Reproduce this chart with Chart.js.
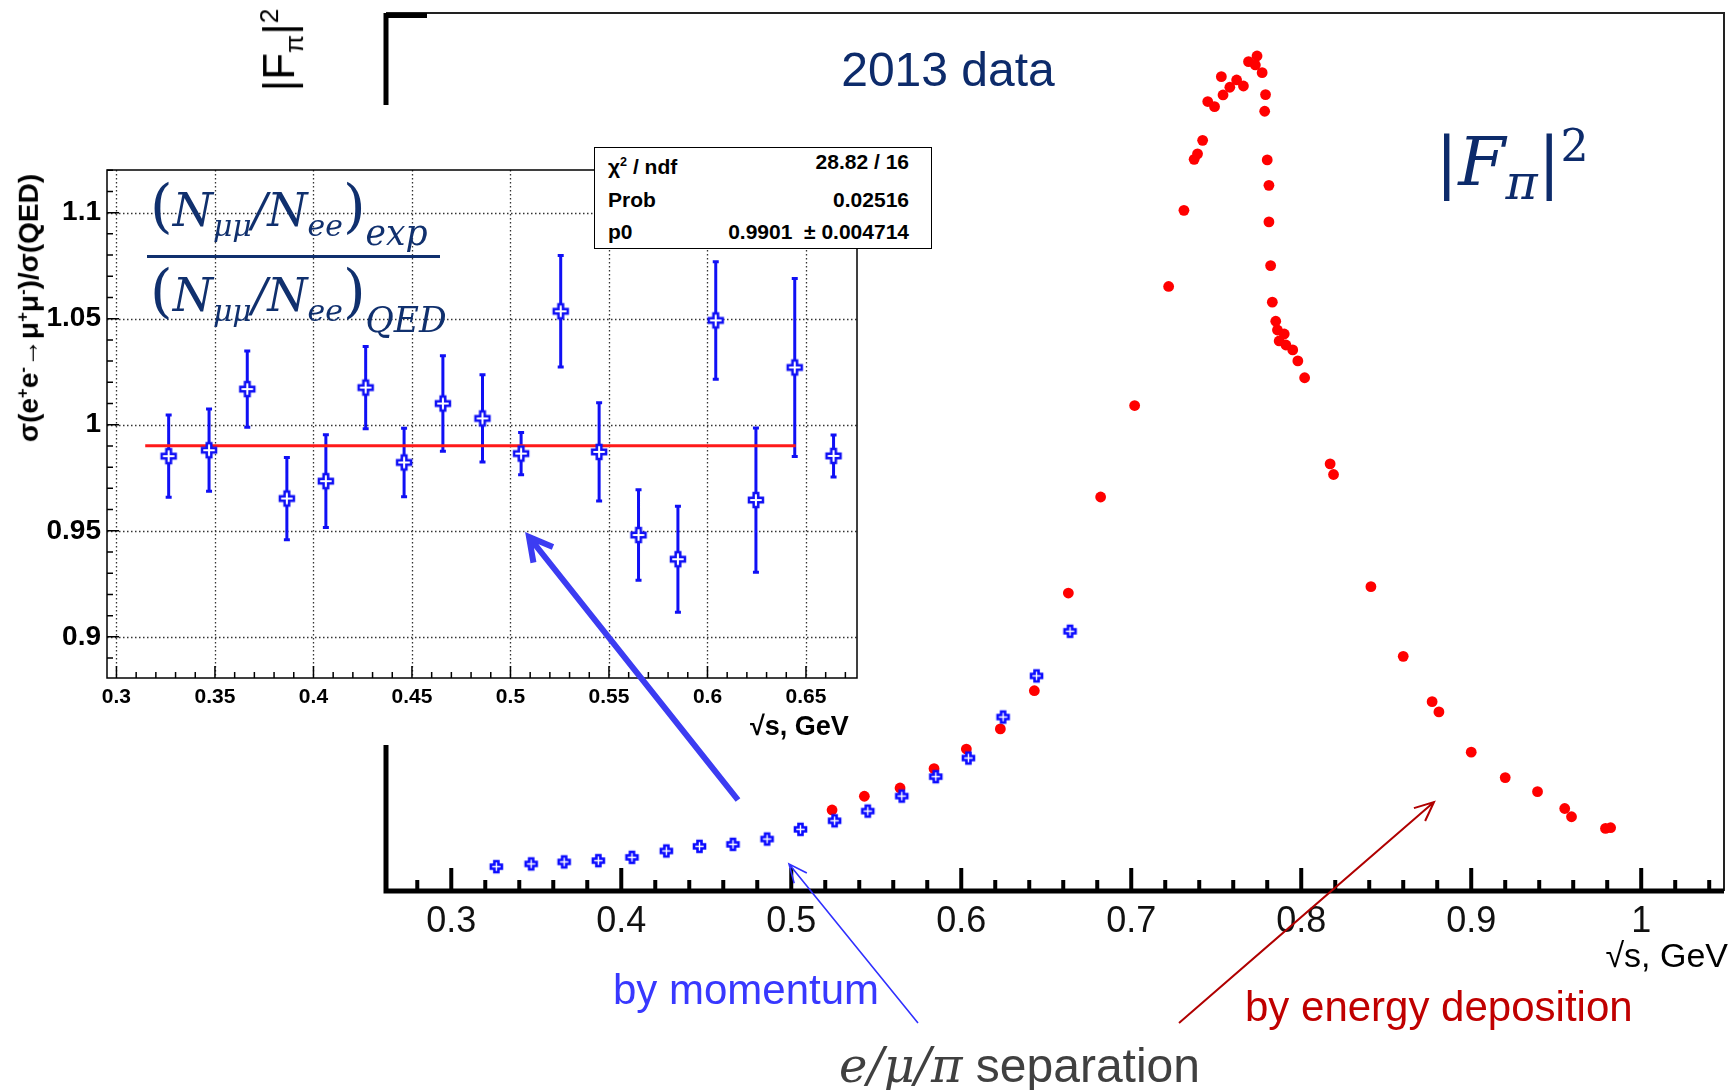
<!DOCTYPE html>
<html>
<head>
<meta charset="utf-8">
<script src="https://cdn.jsdelivr.net/npm/chart.js@4.4.1/dist/chart.umd.min.js"></script>
<style>
  html, body { margin: 0; padding: 0; background: #fff; }
  #page { position: relative; width: 1731px; height: 1090px; overflow: hidden; background: #fff; font-family: 'Liberation Sans', Arial, sans-serif; }
  #mainChart { position: absolute; left: 0; top: 0; }
  #insetBox { position: absolute; left: 0; top: 105px; width: 880px; height: 640px; background: #fff; }
  .lbl { position: absolute; white-space: nowrap; line-height: 1; }
  .math { font-family: 'DejaVu Serif', 'Liberation Serif', serif; font-style: italic; }
  #stats { position: absolute; left: 594px; top: 147px; width: 336px; height: 100px; border: 1.5px solid #000; background: #fff;
           font: bold 21px 'Liberation Sans', Arial, sans-serif; color: #000; }
  #stats .row { position: absolute; left: 13px; right: 22px; height: 24px; line-height: 24px; white-space: pre; }
  #stats .row span:last-child { position: absolute; right: 0; }
  #arrows { position: absolute; left: 0; top: 0; pointer-events: none; }
</style>
</head>
<body>
<div id="page">
  <canvas id="mainChart" width="1731" height="1090"></canvas>

  <!-- inset: ratio to QED -->
  <div id="insetBox"><canvas id="insetChart" width="880" height="640"></canvas></div>

  <div class="lbl" style="left:29px; top:308px; transform: translate(-50%,-50%) rotate(-90deg); font: bold 28px 'Liberation Sans', Arial, sans-serif;">σ(e<sup style="font-size:60%">+</sup>e<sup style="font-size:60%">-</sup>→μ<sup style="font-size:60%">+</sup>μ<sup style="font-size:60%">-</sup>)/σ(QED)</div>
  <div class="lbl" style="left:750px; top:711px; font: bold 27px 'Liberation Sans', Arial, sans-serif;">√s, GeV</div>

  <div id="stats">
    <div class="row" style="top:2px"><span>χ<sup style="font-size:60%">2</sup> / ndf</span><span id="stChi"></span></div>
    <div class="row" style="top:40px"><span>Prob</span><span id="stProb"></span></div>
    <div class="row" style="top:72px"><span>p0</span><span id="stP0"></span></div>
  </div>

  <!-- ratio formula -->
  <div class="lbl math" style="left:150px; top:177px; font-size:46px; color:#10306e;"><span style="font-style:normal; font-size:58px;">(</span>N<sub style="font-size:65%">μμ</sub>/N<sub style="font-size:65%">ee</sub><span style="font-style:normal; font-size:58px;">)</span><sub style="font-size:75%; position:relative; top:9px;">exp</sub></div>
  <div style="position:absolute; left:147px; top:255px; width:293px; height:3px; background:#10306e;"></div>
  <div class="lbl math" style="left:150px; top:262px; font-size:46px; color:#10306e;"><span style="font-style:normal; font-size:58px;">(</span>N<sub style="font-size:65%">μμ</sub>/N<sub style="font-size:65%">ee</sub><span style="font-style:normal; font-size:58px;">)</span><sub style="font-size:75%; position:relative; top:11px;">QED</sub></div>

  <!-- main plot labels -->
  <div class="lbl" style="left:282px; top:50px; transform: translate(-50%,-50%) rotate(-90deg); font-size:44px; color:#000;">|F<sub style="font-size:60%">π</sub>|<sup style="font-size:60%">2</sup></div>
  <div class="lbl" style="left:948px; top:70px; transform: translate(-50%,-50%); font-size:48px; color:#0d2b6b;">2013 data</div>
  <div class="lbl math" style="left:1512px; top:166px; transform: translate(-50%,-50%); font-size:68px; color:#0d2b6b;"><span style="font-style:normal">|</span>F<sub style="font-size:72%">π</sub><span style="font-style:normal">|</span><sup style="font-size:65%; font-style:normal">2</sup></div>
  <div class="lbl" style="right:3px; top:955px; transform: translateY(-50%); font-size:34px; color:#000;">√s, GeV</div>

  <div class="lbl" style="left:613px; top:990px; transform: translateY(-50%); font-size:42px; color:#3838ff;">by momentum</div>
  <div class="lbl" style="left:1245px; top:1007px; transform: translateY(-50%); font-size:42px; color:#c00000;">by energy deposition</div>
  <div class="lbl" style="left:839px; top:1065px; transform: translateY(-50%); font-size:48px; color:#404040;"><span class="math">e/μ/π</span> separation</div>

  <svg id="arrows" width="1731" height="1090"></svg>
</div>

<script>
// main plot: |F_pi|^2 points (arbitrary units)
const blueX = [0.3265, 0.347, 0.3664, 0.3865, 0.4063, 0.4265, 0.446, 0.4657, 0.4858, 0.5054, 0.5255, 0.545, 0.565, 0.585, 0.6042, 0.6246, 0.6443, 0.664];
const blueY = [1.33, 1.48, 1.59, 1.66, 1.84, 2.19, 2.44, 2.55, 2.84, 3.37, 3.84, 4.37, 5.19, 6.25, 7.27, 9.51, 11.76, 14.20];

const redX = [0.524, 0.543, 0.564, 0.584, 0.603, 0.623, 0.643, 0.663, 0.682, 0.702, 0.722, 0.731, 0.737, 0.739, 0.742, 0.745,
              0.749, 0.753, 0.754, 0.758, 0.762, 0.766, 0.769, 0.773, 0.774, 0.777, 0.779, 0.7785, 0.780, 0.781, 0.781, 0.782,
              0.783, 0.785, 0.786, 0.787, 0.790, 0.791, 0.795, 0.798, 0.802, 0.817, 0.819, 0.841, 0.860, 0.877, 0.881, 0.900,
              0.920, 0.939, 0.955, 0.959, 0.979, 0.982];
const redY = [4.43, 5.18, 5.63, 6.69, 7.76, 8.86, 10.95, 16.29, 21.54, 26.54, 33.05, 37.21, 40.00, 40.30, 41.04, 43.16,
              42.88, 44.52, 43.52, 43.94, 44.34, 44.01, 45.34, 45.16, 45.65, 44.74, 43.54, 42.63, 39.97, 38.58, 36.58, 34.19,
              32.19, 31.15, 30.67, 30.07, 30.45, 29.85, 29.58, 28.98, 28.06, 23.35, 22.77, 16.64, 12.83, 10.35, 9.79, 7.59,
              6.20, 5.43, 4.51, 4.06, 3.42, 3.46];

const mainTicks = [0.3, 0.4, 0.5, 0.6, 0.7, 0.8, 0.9, 1.0];
const mainTickLabels = ['0.3', '0.4', '0.5', '0.6', '0.7', '0.8', '0.9', '1'];

// inset: sigma(ee->mumu)/sigma(QED)
const ratioVals = [0.9852, 0.988, 1.0168, 0.9652, 0.9734, 1.0175, 0.9822, 1.0100, 1.0030, 0.9864, 1.0535, 0.9872, 0.9480, 0.9366, 1.0492, 0.9645, 1.0270, 0.9853];
const ratioErrs = [0.0194, 0.0194, 0.018, 0.0194, 0.0219, 0.0194, 0.0162, 0.0225, 0.0206, 0.0100, 0.0263, 0.0232, 0.0213, 0.0250, 0.0277, 0.0340, 0.0420, 0.0099];

const insetXTicks = [0.3, 0.35, 0.4, 0.45, 0.5, 0.55, 0.6, 0.65];
const insetXLabels = ['0.3', '0.35', '0.4', '0.45', '0.5', '0.55', '0.6', '0.65'];
const insetYTicks = [0.9, 0.95, 1.0, 1.05, 1.1];
const insetYLabels = ['0.9', '0.95', '1', '1.05', '1.1'];

// pol0 fit
const fitRange = [0.3146, 0.6448];
const fitP0 = 0.9901;
const fitP0Err = 0.004714;
const fitChi2 = 28.82;
const fitNdf = 16;
const fitProb = 0.02516;

Chart.defaults.font.family = "'Liberation Sans', Arial, sans-serif";
Chart.defaults.color = '#000';

document.getElementById('stChi').textContent = `${fitChi2} / ${fitNdf}`;
document.getElementById('stProb').textContent = `${fitProb}`;
document.getElementById('stP0').textContent = `${fitP0}  ± ${fitP0Err}`;

// open cross marker (blue outline, white inside)
function crossMarker(size, arm, lw, color) {
    const c = document.createElement('canvas');
    const pad = Math.ceil(lw);
    c.width = c.height = size + pad * 2;
    const g = c.getContext('2d');
    const m = c.width / 2, h = size / 2;
    g.beginPath();
    g.moveTo(m - arm, m - h); g.lineTo(m + arm, m - h); g.lineTo(m + arm, m - arm);
    g.lineTo(m + h, m - arm); g.lineTo(m + h, m + arm); g.lineTo(m + arm, m + arm);
    g.lineTo(m + arm, m + h); g.lineTo(m - arm, m + h); g.lineTo(m - arm, m + arm);
    g.lineTo(m - h, m + arm); g.lineTo(m - h, m - arm); g.lineTo(m - arm, m - arm);
    g.closePath();
    g.fillStyle = '#fff';
    g.fill();
    g.lineWidth = lw;
    g.strokeStyle = color;
    g.stroke();
    return c;
}

const mainCross = crossMarker(11, 2, 2.6, '#0a0aff');
const insetCross = crossMarker(14, 2.3, 2.5, '#1010f5');

// thick left/bottom axes with inward ticks, thin top/right border
const mainFrame = {
    id: 'mainFrame',
    beforeDatasetsDraw(chart) {
        const { ctx, chartArea: a, scales: { x } } = chart;
        ctx.save();
        ctx.strokeStyle = '#222';
        ctx.lineWidth = 2;
        ctx.beginPath();
        ctx.moveTo(a.left, a.top); ctx.lineTo(a.right, a.top); ctx.lineTo(a.right, a.bottom);
        ctx.stroke();

        ctx.strokeStyle = '#000';
        ctx.lineWidth = 5;
        ctx.beginPath();
        ctx.moveTo(a.left, a.top); ctx.lineTo(a.left, a.bottom + 2.5);
        ctx.moveTo(a.left - 2.5, a.bottom); ctx.lineTo(a.right, a.bottom);
        ctx.moveTo(a.left - 2.5, a.top + 2.5); ctx.lineTo(a.left + 41, a.top + 2.5);
        ctx.stroke();

        ctx.lineWidth = 4;
        ctx.beginPath();
        for (let i = 14; i <= 52; i++) {
            const v = i * 0.02;
            const px = x.getPixelForValue(v);
            const len = (i % 5 === 0) ? 23 : 11;
            ctx.moveTo(px, a.bottom);
            ctx.lineTo(px, a.bottom - len);
        }
        ctx.stroke();
        ctx.restore();
    }
};

new Chart(document.getElementById('mainChart'), {
    type: 'scatter',
    data: {
        datasets: [
            {
                label: 'by momentum',
                data: blueX.map((v, i) => ({ x: v, y: blueY[i] })),
                pointStyle: mainCross,
                pointRadius: 6,
                order: 0
            },
            {
                label: 'by energy deposition',
                data: redX.map((v, i) => ({ x: v, y: redY[i] })),
                pointStyle: 'circle',
                pointRadius: 5.4,
                backgroundColor: '#ff0000',
                borderWidth: 0,
                order: 1
            }
        ]
    },
    options: {
        responsive: false,
        animation: false,
        layout: { padding: { top: 13, right: 3, left: 0, bottom: 0 } },
        plugins: { legend: { display: false }, tooltip: { enabled: false } },
        scales: {
            x: {
                type: 'linear', min: 0.2616, max: 1.0487,
                afterBuildTicks: (s) => { s.ticks = mainTicks.map(v => ({ value: v })); },
                afterFit: (s) => { s.height = 199; },
                ticks: {
                    callback: (v, i) => mainTickLabels[i],
                    font: { size: 36 }, color: '#111', padding: 9,
                    maxRotation: 0, autoSkip: false
                },
                grid: { display: false, drawTicks: false },
                border: { display: false }
            },
            y: {
                min: 0, max: 48,
                afterFit: (s) => { s.width = 386; },
                ticks: { display: false },
                grid: { display: false, drawTicks: false },
                border: { display: false }
            }
        }
    },
    plugins: [mainFrame]
});

// ROOT-style frame, dotted grid, inward ticks and error bars
const insetFrame = {
    id: 'insetFrame',
    beforeDatasetsDraw(chart) {
        const { ctx, chartArea: a, scales: { x, y } } = chart;
        ctx.save();
        ctx.strokeStyle = '#333';
        ctx.lineWidth = 1.3;
        ctx.setLineDash([1.5, 2.5]);
        ctx.beginPath();
        insetXTicks.forEach(v => { const px = Math.round(x.getPixelForValue(v)) + 0.5; ctx.moveTo(px, a.top); ctx.lineTo(px, a.bottom); });
        insetYTicks.forEach(v => { const py = Math.round(y.getPixelForValue(v)) + 0.5; ctx.moveTo(a.left, py); ctx.lineTo(a.right, py); });
        ctx.stroke();
        ctx.setLineDash([]);

        ctx.strokeStyle = '#000';
        ctx.lineWidth = 1.5;
        ctx.strokeRect(a.left, a.top, a.right - a.left, a.bottom - a.top);

        ctx.beginPath();
        for (let i = 30; i <= 67; i++) {
            const px = x.getPixelForValue(i / 100);
            const len = (i % 5 === 0) ? 12 : 6;
            ctx.moveTo(px, a.bottom); ctx.lineTo(px, a.bottom - len);
        }
        for (let i = 89; i <= 112; i++) {
            const py = y.getPixelForValue(i / 100);
            const len = (i % 5 === 0) ? 12 : 6;
            ctx.moveTo(a.left, py); ctx.lineTo(a.left + len, py);
        }
        ctx.stroke();

        // error bars
        ctx.strokeStyle = '#1010f5';
        ctx.lineWidth = 3;
        ctx.beginPath();
        ratioVals.forEach((v, i) => {
            const px = x.getPixelForValue(blueX[i]);
            const top = y.getPixelForValue(v + ratioErrs[i]);
            const bot = y.getPixelForValue(v - ratioErrs[i]);
            ctx.moveTo(px, top); ctx.lineTo(px, bot);
            ctx.moveTo(px - 3, top); ctx.lineTo(px + 3, top);
            ctx.moveTo(px - 3, bot); ctx.lineTo(px + 3, bot);
        });
        ctx.stroke();
        ctx.restore();
    }
};

new Chart(document.getElementById('insetChart'), {
    type: 'scatter',
    data: {
        datasets: [
            {
                label: 'ratio',
                data: blueX.map((v, i) => ({ x: v, y: ratioVals[i] })),
                pointStyle: insetCross,
                pointRadius: 7,
                order: 0
            },
            {
                label: 'pol0',
                data: [{ x: fitRange[0], y: fitP0 }, { x: fitRange[1], y: fitP0 }],
                showLine: true,
                borderColor: '#ff1a1a',
                borderWidth: 3,
                pointRadius: 0,
                order: 1
            }
        ]
    },
    options: {
        responsive: false,
        animation: false,
        layout: { padding: { top: 65, right: 23, left: 0, bottom: 0 } },
        plugins: { legend: { display: false }, tooltip: { enabled: false } },
        scales: {
            x: {
                type: 'linear', min: 0.2952, max: 0.6759,
                afterBuildTicks: (s) => { s.ticks = insetXTicks.map(v => ({ value: v })); },
                afterFit: (s) => { s.height = 67; },
                ticks: {
                    callback: (v, i) => insetXLabels[i],
                    font: { size: 21, weight: 'bold' }, color: '#000', padding: 7,
                    maxRotation: 0, autoSkip: false
                },
                grid: { display: false, drawTicks: false },
                border: { display: false }
            },
            y: {
                min: 0.8806, max: 1.1201,
                afterBuildTicks: (s) => { s.ticks = insetYTicks.map(v => ({ value: v })); },
                afterFit: (s) => { s.width = 107; },
                ticks: {
                    callback: (v, i) => insetYLabels[i],
                    font: { size: 28, weight: 'bold' }, color: '#000', padding: 6
                },
                grid: { display: false, drawTicks: false },
                border: { display: false }
            }
        }
    },
    plugins: [insetFrame]
});

// annotation arrows
const svg = document.getElementById('arrows');
function arrow(x1, y1, x2, y2, color, width, head, spread) {
    const ang = Math.atan2(y2 - y1, x2 - x1);
    const ns = 'http://www.w3.org/2000/svg';
    const p = document.createElementNS(ns, 'path');
    const a1 = ang + Math.PI - spread, a2 = ang + Math.PI + spread;
    const d = `M${x1},${y1} L${x2},${y2} M${x2 + head * Math.cos(a1)},${y2 + head * Math.sin(a1)} L${x2},${y2} L${x2 + head * Math.cos(a2)},${y2 + head * Math.sin(a2)}`;
    p.setAttribute('d', d);
    p.setAttribute('stroke', color);
    p.setAttribute('stroke-width', width);
    p.setAttribute('fill', 'none');
    p.setAttribute('stroke-linejoin', 'miter');
    svg.appendChild(p);
}
arrow(738, 800, 529, 537, '#3c3cf2', 6, 26, 0.5);
arrow(918, 1023, 789, 864, '#3030ff', 1.6, 20, 0.42);
arrow(1179, 1023, 1434, 802, '#b00000', 2, 21, 0.42);
</script>
</body>
</html>
